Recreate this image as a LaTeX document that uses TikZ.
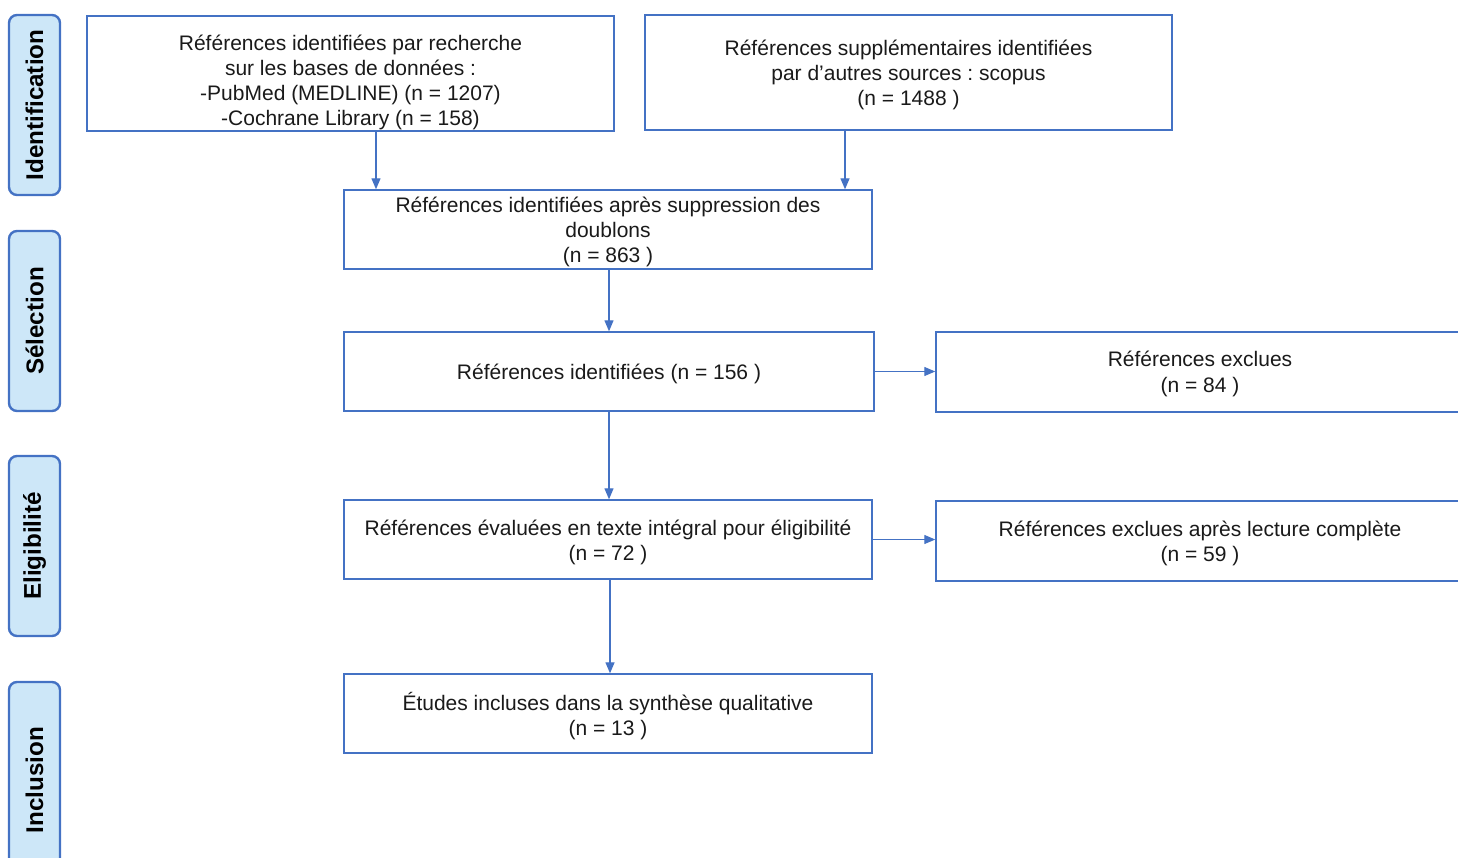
\documentclass[tikz,border=0pt]{standalone}
\usepackage{fontspec}
\setmainfont{Liberation Sans}
\frenchspacing
\usetikzlibrary{arrows.meta}
\definecolor{bord}{HTML}{4472C4}
\definecolor{sidefill}{HTML}{CDE7F8}
\definecolor{txt}{HTML}{1A1A1A}
\tikzset{
  box/.style={draw=bord, line width=1.4pt, fill=white, inner sep=0pt,
    minimum width=528pt, minimum height=79pt},
  plain/.style={inner sep=0pt, align=center, text=txt,
    font=\fontsize{21}{25.3}\selectfont\frenchspacing},
  side/.style={draw=bord, line width=2.4pt, fill=sidefill, rounded corners=8pt,
    rotate=90, minimum width=180pt, minimum height=51pt, inner sep=0pt,
    font=\fontsize{24.2}{26}\selectfont\bfseries, text=black},
  arr/.style={draw=bord, line width=1.3pt, -{Triangle[length=11pt,width=9pt]}}
}
\begin{document}
\begin{tikzpicture}[x=1pt,y=-1pt]
\useasboundingbox (0,0) rectangle (1458,858);
\clip (0,0) rectangle (1458,858);
% side labels
\node[side] (s1) at (34.5,105) {Identification};
\node[side] (s2) at (34.5,321) {Sélection};
\node[side] (s3) at (34.5,546) {Eligibilité};
\node[side, minimum width=196pt] (s4) at (34.5,780) {Inclusion};
% boxes
\node[box, minimum width=527pt, minimum height=115pt] (a) at (350.5,73.5) {};
\node[box, minimum width=527pt, minimum height=115pt] (b) at (908.5,72.5) {};
\node[box] (c) at (608,229.5) {};
\node[box, minimum width=530pt] (d) at (609,371.5) {};
\node[box, minimum height=80pt] (e) at (1200,372) {};
\node[box] (f) at (608,539.5) {};
\node[box, minimum height=80pt] (g) at (1200,541) {};
\node[box] (h) at (608,713.5) {};
% texts
\node[plain] (at) at (350.5,82.5) {Références identifiées par recherche\\sur les bases de données :\\-PubMed (MEDLINE) (n = 1207)\\-Cochrane Library (n = 158)};
\node[plain] (bt) at ([yshift=-2.5pt]b.center) {Références supplémentaires identifiées\\par d’autres sources : scopus\\(n = 1488 )};
\node[plain] (ct) at ([yshift=-2.5pt]c.center) {Références identifiées après suppression des\\doublons\\(n = 863 )};
\node[plain] (dt) at ([yshift=-2pt]d.center) {Références identifiées (n = 156 )};
\node[plain] (et) at ([yshift=-2pt]e.center) {Références exclues\\(n = 84 )};
\node[plain] (ft) at ([yshift=-3pt]f.center) {Références évaluées en texte intégral pour éligibilité\\(n = 72 )};
\node[plain] (gt) at ([yshift=-2.5pt]g.center) {Références exclues après lecture complète\\(n = 59 )};
\node[plain] (ht) at ([yshift=-2.5pt]h.center) {Études incluses dans la synthèse qualitative\\(n = 13 )};
% arrows
\draw[arr] ([xshift=25.5pt]a.south) -- ([xshift=25.5pt]a.south |- c.north);
\draw[arr] ([xshift=-63.5pt]b.south) -- ([xshift=-63.5pt]b.south |- c.north);
\draw[arr] ([xshift=1pt]c.south) -- ([xshift=1pt]c.south |- d.north);
\draw[arr] (d.south) -- (d.south |- f.north);
\draw[arr] ([xshift=2pt]f.south) -- ([xshift=2pt]f.south |- h.north);
\draw[arr] (d.east) -- (d.east -| e.west);
\draw[arr] (f.east) -- (f.east -| g.west);
\end{tikzpicture}
\end{document}
